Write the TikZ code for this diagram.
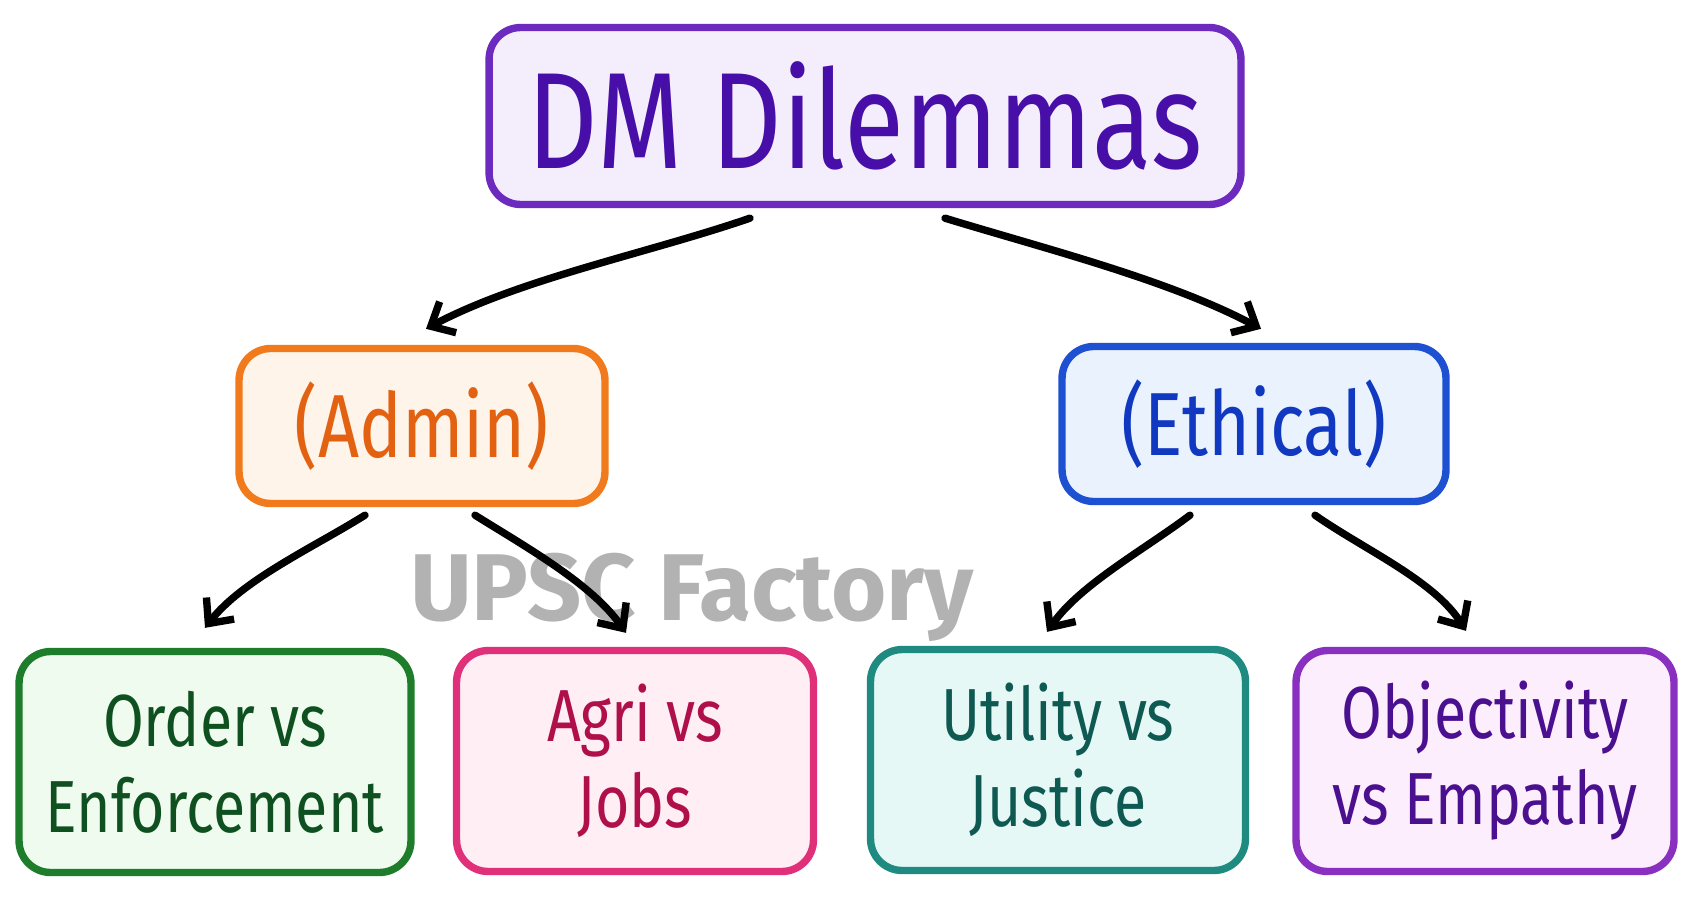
\documentclass[tikz,border=0pt]{standalone}
\usepackage{fontspec}
\setmainfont[FakeStretch=0.8]{Fira Sans}
\newfontfamily\markfont{Fira Sans}
\usetikzlibrary{
  arrows.meta,
  calc,
  positioning,
}
\definecolor{dmline}{RGB}{108,42,190}
\definecolor{dmtext}{RGB}{72,14,168}
\definecolor{dmfill}{RGB}{244,238,252}
\definecolor{adminline}{RGB}{240,122,28}
\definecolor{admintext}{RGB}{226,98,18}
\definecolor{adminfill}{RGB}{255,244,234}
\definecolor{ethline}{RGB}{30,80,210}
\definecolor{ethtext}{RGB}{16,56,192}
\definecolor{ethfill}{RGB}{234,243,253}
\definecolor{orderline}{RGB}{30,125,42}
\definecolor{ordertext}{RGB}{14,80,32}
\definecolor{orderfill}{RGB}{238,251,238}
\definecolor{agriline}{RGB}{224,48,122}
\definecolor{agritext}{RGB}{176,16,74}
\definecolor{agrifill}{RGB}{255,238,244}
\definecolor{utilline}{RGB}{30,138,128}
\definecolor{utiltext}{RGB}{14,90,82}
\definecolor{utilfill}{RGB}{230,248,246}
\definecolor{objline}{RGB}{138,48,192}
\definecolor{objtext}{RGB}{74,16,144}
\definecolor{objfill}{RGB}{252,238,252}
\definecolor{markgray}{RGB}{178,178,178}
\tikzstyle{box} = [
  rectangle,
  draw,
  rounded corners=18pt,
  line width=4.2pt,
  align=center,
  inner sep=0pt,
]
\tikzstyle{leaf} = [
  box,
  minimum height=4.42cm,
  font=\fontsize{42}{49}\selectfont,
]
\tikzstyle{arrow} = [
  -{Straight Barb[length=11pt,width=20pt]},
  line width=4.2pt,
  line cap=round,
  black,
]

\begin{document}
\begin{tikzpicture}[x=0.02cm,y=-0.02cm]
			\useasboundingbox (0,0) rectangle (1693,899);

			\node[box,draw=dmline,fill=dmfill,text=dmtext,minimum width=15.04cm,minimum height=3.54cm,font=\fontsize{78}{90}\selectfont] (dm) at (865,116) {DM Dilemmas};

			\node[box,draw=adminline,fill=adminfill,text=admintext,minimum width=7.32cm,minimum height=3.1cm,font=\fontsize{51}{60}\selectfont] (admin) at (422,426) {(Admin)};
			\node[box,draw=ethline,fill=ethfill,text=ethtext,minimum width=7.68cm,minimum height=3.1cm,font=\fontsize{51}{60}\selectfont] (ethical) at (1254,424) {(Ethical)};

			\node[leaf,draw=orderline,fill=orderfill,text=ordertext,minimum width=7.84cm] (order) at (215,762) {Order vs\\Enforcement};
			\node[leaf,draw=agriline,fill=agrifill,text=agritext,minimum width=7.14cm] (agri) at (635,761) {Agri vs\\Jobs};
			\node[leaf,draw=utilline,fill=utilfill,text=utiltext,minimum width=7.5cm] (utility) at (1058,760) {Utility vs\\Justice};
			\node[leaf,draw=objline,fill=objfill,text=objtext,minimum width=7.56cm] (objectivity) at (1485,761) {Objectivity\\vs Empathy};

			\node[text=markgray,font=\markfont\bfseries\fontsize{54}{60}\selectfont] (mark) at (692,597) {UPSC Factory};

			\draw[arrow] ($(dm.south)+(-115,10)$) to[out=199,in=28,looseness=0.8] ($(admin.north)+(4,-16)$);
			\draw[arrow] ($(dm.south)+(80,10)$) to[out=-17,in=152,looseness=0.8] ($(ethical.north)+(7,-14)$);
			\draw[arrow] ($(admin.south)+(-57,8)$) to[out=212,in=52,looseness=0.8] ($(order.north)+(-10,-20)$);
			\draw[arrow] ($(admin.south)+(53,8)$) to[out=-32,in=125,looseness=0.8] ($(agri.north)+(-9,-14)$);
			\draw[arrow] ($(ethical.south)+(-64,10)$) to[out=217,in=55,looseness=0.8] ($(utility.north)+(-11,-14)$);
			\draw[arrow] ($(ethical.south)+(61,10)$) to[out=-35,in=122,looseness=0.8] ($(objectivity.north)+(-19,-16)$);
		\end{tikzpicture}
\end{document}
